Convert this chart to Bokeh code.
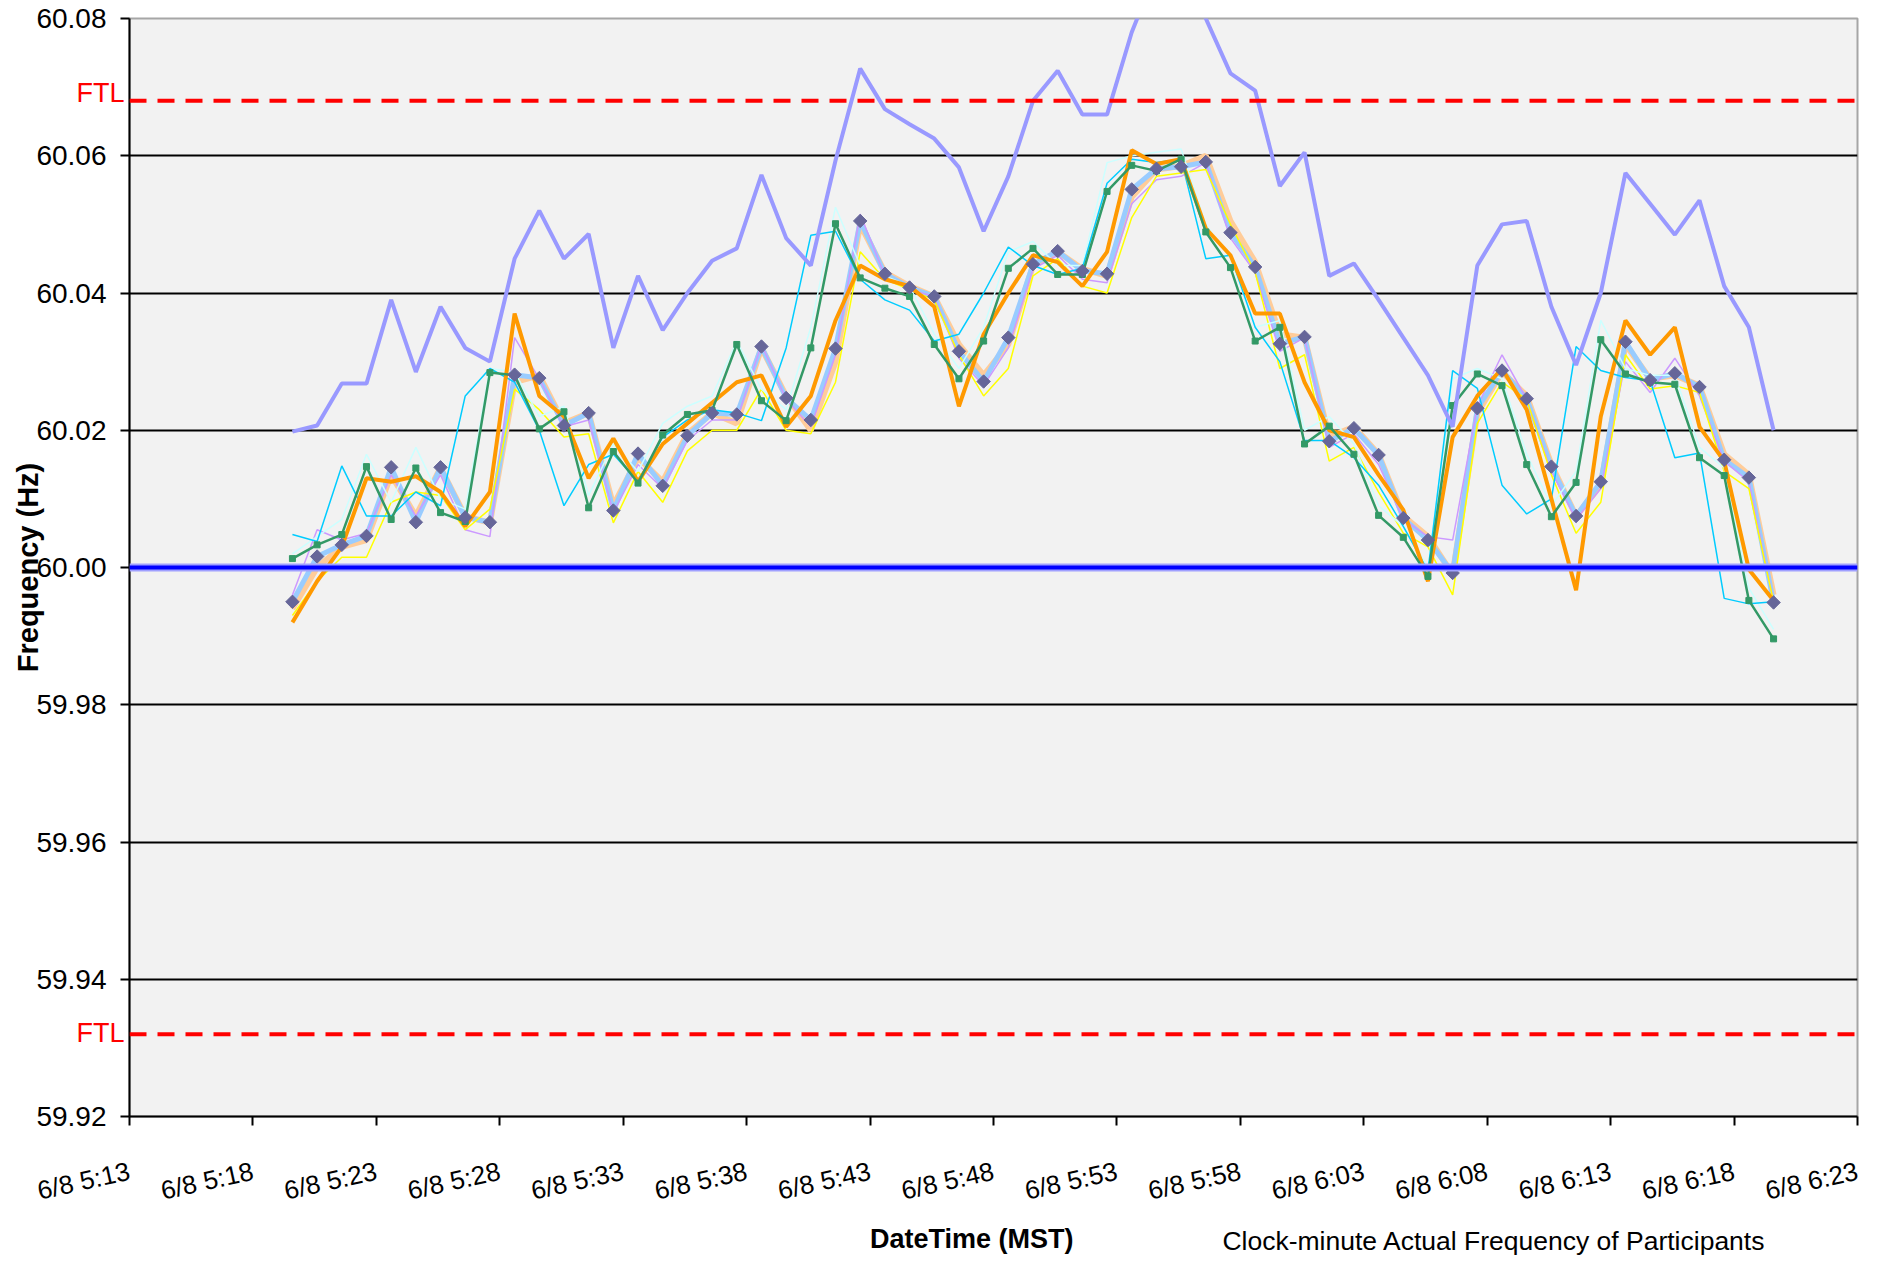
import math
import pandas as pd
from bokeh.plotting import figure
from bokeh.models import FixedTicker, Span, Range1d, LinearAxis, Grid
from bokeh.embed import file_html
from bokeh.resources import INLINE

# ---------------- data ----------------
times = pd.date_range("2009-06-08 05:19:36", periods=61, freq="min")

x_tick_times = pd.date_range("2009-06-08 05:13", "2009-06-08 06:23", freq="5min")
x_tick_labels = ["6/8 5:13", "6/8 5:18", "6/8 5:23", "6/8 5:28", "6/8 5:33", "6/8 5:38",
                 "6/8 5:43", "6/8 5:48", "6/8 5:53", "6/8 5:58", "6/8 6:03", "6/8 6:08",
                 "6/8 6:13", "6/8 6:18", "6/8 6:23"]
y_ticks = [59.92, 59.94, 59.96, 59.98, 60.00, 60.02, 60.04, 60.06, 60.08]
y_tick_labels = ["59.92", "59.94", "59.96", "59.98", "60.00", "60.02", "60.04", "60.06", "60.08"]
grid_values = [59.94, 59.96, 59.98, 60.02, 60.04, 60.06]
SCHEDULED = 60.00
FTL_HIGH = 60.068
FTL_LOW = 59.932
ftl_label_pos = [59.9322, 60.0692]

# clock-minute actual frequency (diamond series, pale blue line)
diamond = [59.9950, 60.0016, 60.0033, 60.0046, 60.0146, 60.0066, 60.0146, 60.0073, 60.0066, 60.0281,
           60.0276, 60.0207, 60.0225, 60.0083, 60.0166, 60.0119, 60.0192, 60.0225, 60.0223, 60.0322,
           60.0247, 60.0215, 60.0319, 60.0505, 60.0428, 60.0408, 60.0395, 60.0315, 60.0271, 60.0335,
           60.0442, 60.0461, 60.0432, 60.0428, 60.0551, 60.0581, 60.0584, 60.0591, 60.0488, 60.0438,
           60.0326, 60.0336, 60.0184, 60.0203, 60.0164, 60.0072, 60.0040, 59.9992, 60.0232, 60.0287,
           60.0246, 60.0147, 60.0075, 60.0125, 60.0329, 60.0273, 60.0283, 60.0263, 60.0157, 60.0131,
           59.9949]
teal = [60.0013, 60.0033, 60.0048, 60.0147, 60.0070, 60.0145, 60.0080, 60.0067, 60.0284, 60.0280,
        60.0202, 60.0227, 60.0087, 60.0169, 60.0123, 60.0193, 60.0223, 60.0229, 60.0325, 60.0243,
        60.0214, 60.0320, 60.0501, 60.0422, 60.0407, 60.0395, 60.0325, 60.0275, 60.0330, 60.0436,
        60.0465, 60.0427, 60.0427, 60.0548, 60.0586, 60.0578, 60.0595, 60.0489, 60.0437, 60.0330,
        60.0350, 60.0180, 60.0206, 60.0165, 60.0076, 60.0044, 59.9987, 60.0236, 60.0282, 60.0265,
        60.0150, 60.0074, 60.0124, 60.0332, 60.0282, 60.0270, 60.0267, 60.0160, 60.0134, 59.9952,
        59.9896]
orange = [59.9920, 59.9980, 60.0030, 60.0130, 60.0125, 60.0133, 60.0110, 60.0060, 60.0110, 60.0370,
          60.0250, 60.0220, 60.0130, 60.0188, 60.0125, 60.0180, 60.0210, 60.0240, 60.0270, 60.0280,
          60.0205, 60.0250, 60.0360, 60.0440, 60.0420, 60.0410, 60.0380, 60.0235, 60.0340, 60.0400,
          60.0455, 60.0445, 60.0410, 60.0460, 60.0608, 60.0588, 60.0595, 60.0494, 60.0455, 60.0370,
          60.0370, 60.0270, 60.0200, 60.0190, 60.0135, 60.0084, 59.9980, 60.0190, 60.0250, 60.0290,
          60.0230, 60.0100, 59.9967, 60.0220, 60.0360, 60.0310, 60.0350, 60.0205, 60.0155, 59.9997,
          59.9952]
periwinkle = [60.0198, 60.0207, 60.0268, 60.0268, 60.0390, 60.0285, 60.0380, 60.0320, 60.0300, 60.0450,
              60.0520, 60.0450, 60.0486, 60.0320, 60.0425, 60.0346, 60.0400, 60.0447, 60.0465, 60.0572,
              60.0480, 60.0440, 60.0593, 60.0727, 60.0668, 60.0646, 60.0625, 60.0583, 60.0490, 60.0570,
              60.0680, 60.0724, 60.0660, 60.0660, 60.0780, 60.0870, 60.0880, 60.0800, 60.0720, 60.0695,
              60.0556, 60.0605, 60.0425, 60.0443, 60.0390, 60.0335, 60.0280, 60.0205, 60.0440, 60.0500,
              60.0505, 60.0380, 60.0295, 60.0400, 60.0575, 60.0530, 60.0485, 60.0535, 60.0410, 60.0350,
              60.0200]
cyan = [60.0048, 60.0038, 60.0148, 60.0075, 60.0075, 60.0110, 60.0090, 60.0250, 60.0290, 60.0270,
        60.0200, 60.0090, 60.0150, 60.0165, 60.0125, 60.0190, 60.0215, 60.0230, 60.0225, 60.0214,
        60.0320, 60.0484, 60.0490, 60.0420, 60.0390, 60.0375, 60.0330, 60.0340, 60.0400, 60.0467,
        60.0440, 60.0427, 60.0436, 60.0560, 60.0595, 60.0590, 60.0595, 60.0450, 60.0455, 60.0350,
        60.0300, 60.0185, 60.0185, 60.0160, 60.0120, 60.0060, 59.9995, 60.0287, 60.0261, 60.0120,
        60.0078, 60.0100, 60.0322, 60.0287, 60.0277, 60.0272, 60.0160, 60.0167, 59.9955, 59.9947,
        59.9950]
yellow = [59.9930, 59.9980, 60.0015, 60.0015, 60.0095, 60.0110, 60.0105, 60.0055, 60.0085, 60.0260,
          60.0230, 60.0190, 60.0195, 60.0065, 60.0140, 60.0095, 60.0170, 60.0200, 60.0200, 60.0260,
          60.0200, 60.0195, 60.0270, 60.0460, 60.0420, 60.0405, 60.0390, 60.0310, 60.0250, 60.0290,
          60.0425, 60.0450, 60.0410, 60.0400, 60.0510, 60.0570, 60.0575, 60.0580, 60.0500, 60.0430,
          60.0290, 60.0310, 60.0155, 60.0175, 60.0110, 60.0050, 60.0030, 59.9960, 60.0210, 60.0270,
          60.0245, 60.0135, 60.0050, 60.0095, 60.0310, 60.0260, 60.0265, 60.0255, 60.0140, 60.0115,
          59.9950]
peach = [59.9940, 60.0000, 60.0030, 60.0040, 60.0135, 60.0075, 60.0145, 60.0075, 60.0065, 60.0270,
         60.0280, 60.0210, 60.0225, 60.0090, 60.0160, 60.0125, 60.0195, 60.0225, 60.0210, 60.0320,
         60.0250, 60.0200, 60.0300, 60.0500, 60.0430, 60.0410, 60.0395, 60.0325, 60.0280, 60.0325,
         60.0440, 60.0460, 60.0435, 60.0425, 60.0540, 60.0580, 60.0585, 60.0600, 60.0505, 60.0445,
         60.0340, 60.0335, 60.0190, 60.0205, 60.0165, 60.0075, 60.0045, 59.9990, 60.0225, 60.0285,
         60.0250, 60.0150, 60.0075, 60.0120, 60.0325, 60.0275, 60.0280, 60.0265, 60.0165, 60.0135,
         59.9960]
lavender = [59.9960, 60.0055, 60.0040, 60.0050, 60.0135, 60.0075, 60.0135, 60.0055, 60.0045, 60.0335,
            60.0275, 60.0205, 60.0215, 60.0080, 60.0150, 60.0115, 60.0185, 60.0215, 60.0215, 60.0325,
            60.0245, 60.0205, 60.0310, 60.0515, 60.0425, 60.0405, 60.0395, 60.0305, 60.0265, 60.0320,
            60.0435, 60.0455, 60.0420, 60.0415, 60.0530, 60.0565, 60.0570, 60.0590, 60.0480, 60.0430,
            60.0315, 60.0335, 60.0175, 60.0195, 60.0150, 60.0070, 60.0045, 60.0040, 60.0235, 60.0310,
            60.0245, 60.0140, 60.0070, 60.0115, 60.0300, 60.0255, 60.0305, 60.0250, 60.0155, 60.0125,
            59.9950]
light_cyan = [60.0020, 60.0045, 60.0070, 60.0165, 60.0095, 60.0175, 60.0100, 60.0085, 60.0290, 60.0285,
              60.0220, 60.0235, 60.0105, 60.0180, 60.0140, 60.0210, 60.0235, 60.0250, 60.0330, 60.0260,
              60.0230, 60.0350, 60.0525, 60.0440, 60.0425, 60.0410, 60.0340, 60.0290, 60.0350, 60.0460,
              60.0475, 60.0440, 60.0440, 60.0590, 60.0600, 60.0605, 60.0610, 60.0500, 60.0450, 60.0350,
              60.0360, 60.0200, 60.0220, 60.0180, 60.0090, 60.0060, 60.0000, 60.0275, 60.0290, 60.0275,
              60.0165, 60.0090, 60.0140, 60.0360, 60.0290, 60.0280, 60.0280, 60.0175, 60.0145, 59.9970,
              59.9910]

x_title = "DateTime (MST)"
y_title = "Frequency (Hz)"
note = "Clock-minute Actual Frequency of Participants"
x_title_at = pd.Timestamp("2009-06-08 05:47:07")
note_at = pd.Timestamp("2009-06-08 06:08:17")

# ---------------- figure ----------------
FONT = "Liberation Sans"
x_start = pd.Timestamp("2009-06-08 05:13")
x_end = pd.Timestamp("2009-06-08 06:23")

p = figure(width=1861, height=1258, x_axis_type="datetime", y_axis_location=None,
           x_range=Range1d(x_start, x_end), y_range=Range1d(59.92, 60.08),
           output_backend="svg", toolbar_location=None,
           min_border_left=129, min_border_right=4, min_border_top=18, min_border_bottom=142)

p.background_fill_color = "#F2F2F2"
p.border_fill_color = "#FFFFFF"
p.outline_line_color = "#A6A6A6"
p.outline_line_width = 2

for g in p.grid:
    g.visible = False
p.add_layout(Grid(dimension=1, ticker=FixedTicker(ticks=grid_values),
                  grid_line_color="#000000", grid_line_width=2))

# main x axis
tick_ms = [t.value / 10**6 for t in x_tick_times]
xa = p.xaxis[0]
xa.ticker = FixedTicker(ticks=tick_ms)
xa.major_label_overrides = {ms: lab for ms, lab in zip(tick_ms, x_tick_labels)}
xa.major_label_orientation = 0.22
xa.major_label_standoff = 45
xa.minor_tick_line_color = None
xa.axis_line_color = "#000000"
xa.axis_line_width = 2
xa.major_tick_line_color = "#000000"
xa.major_tick_line_width = 2
xa.major_tick_out = 9
xa.major_tick_in = 0
xa.major_label_text_font = FONT
xa.major_label_text_font_size = "26px"
xa.major_label_text_color = "#000000"

# x axis title and note below the tick labels
dt_ms = x_title_at.value / 10**6
note_ms = note_at.value / 10**6
for pos, txt, style, size, standoff in ((dt_ms, x_title, "bold", "27px", 0),
                                        (note_ms, note, "normal", "26.5px", -31)):
    ax = LinearAxis(ticker=FixedTicker(ticks=[pos]), major_label_overrides={pos: txt},
                    major_label_text_font=FONT, major_label_text_font_size=size,
                    major_label_text_font_style=style, major_label_text_color="#000000",
                    major_label_standoff=standoff, axis_line_color=None,
                    major_tick_line_color=None, major_tick_out=0, major_tick_in=0,
                    minor_tick_line_color=None)
    p.add_layout(ax, "below")

# inner left axis: axis line, tick marks (as minor ticks) and red FTL labels
ftl_axis = LinearAxis(ticker=FixedTicker(ticks=ftl_label_pos, minor_ticks=y_ticks),
                      major_label_overrides={v: "FTL" for v in ftl_label_pos},
                      major_label_text_color="#FF0000", major_label_text_font=FONT,
                      major_label_text_font_size="27px", major_label_standoff=-4,
                      major_tick_out=0, major_tick_in=0, major_tick_line_color=None,
                      minor_tick_out=9, minor_tick_in=0, minor_tick_line_color="#000000",
                      minor_tick_line_width=2, axis_line_color="#000000", axis_line_width=2)
p.add_layout(ftl_axis, "left")

# outer left axis: numeric labels and axis title
num_axis = LinearAxis(ticker=FixedTicker(ticks=y_ticks),
                      major_label_overrides={v: lab for v, lab in zip(y_ticks, y_tick_labels)},
                      major_label_text_font=FONT, major_label_text_font_size="28px",
                      major_label_text_color="#000000", major_label_standoff=-33,
                      major_tick_out=0, major_tick_in=0, major_tick_line_color=None,
                      minor_tick_line_color=None, axis_line_color=None,
                      axis_label=y_title, axis_label_standoff=-11, axis_label_text_font=FONT,
                      axis_label_text_font_size="29px", axis_label_text_font_style="bold",
                      axis_label_text_color="#000000")
p.add_layout(num_axis, "left")

# ---------------- series ----------------
p.line(times, peach, line_color="#FFCC99", line_width=6)
p.line(times, diamond, line_color="#99CCFF", line_width=5)
p.line(times, lavender, line_color="#CC99FF", line_width=1.5)
p.line(times, yellow, line_color="#FFFF00", line_width=1.5)
p.line(times, light_cyan, line_color="#CCFFFF", line_width=1.5)
p.line(times, cyan, line_color="#00CCFF", line_width=1.5)
p.line(times, orange, line_color="#FF9900", line_width=4)
p.line(times, teal, line_color="#339966", line_width=2.5)
p.scatter(times, teal, marker="square", size=6, fill_color="#339966", line_color="#339966")
p.line(times, periwinkle, line_color="#9999FF", line_width=4)
p.scatter(times, diamond, marker="square", angle=math.pi / 4, size=9.5,
          fill_color="#666699", line_color="#666699")

# ---------------- reference lines ----------------
p.add_layout(Span(location=SCHEDULED, dimension="width", line_color="#A0A0FF", line_width=8))
p.add_layout(Span(location=SCHEDULED, dimension="width", line_color="#0000FF", line_width=4))
for lvl in (FTL_HIGH, FTL_LOW):
    p.add_layout(Span(location=lvl, dimension="width", line_color="#FF0000",
                      line_width=4, line_dash="17 11"))

open("out.html", "w").write(file_html(p, INLINE))
